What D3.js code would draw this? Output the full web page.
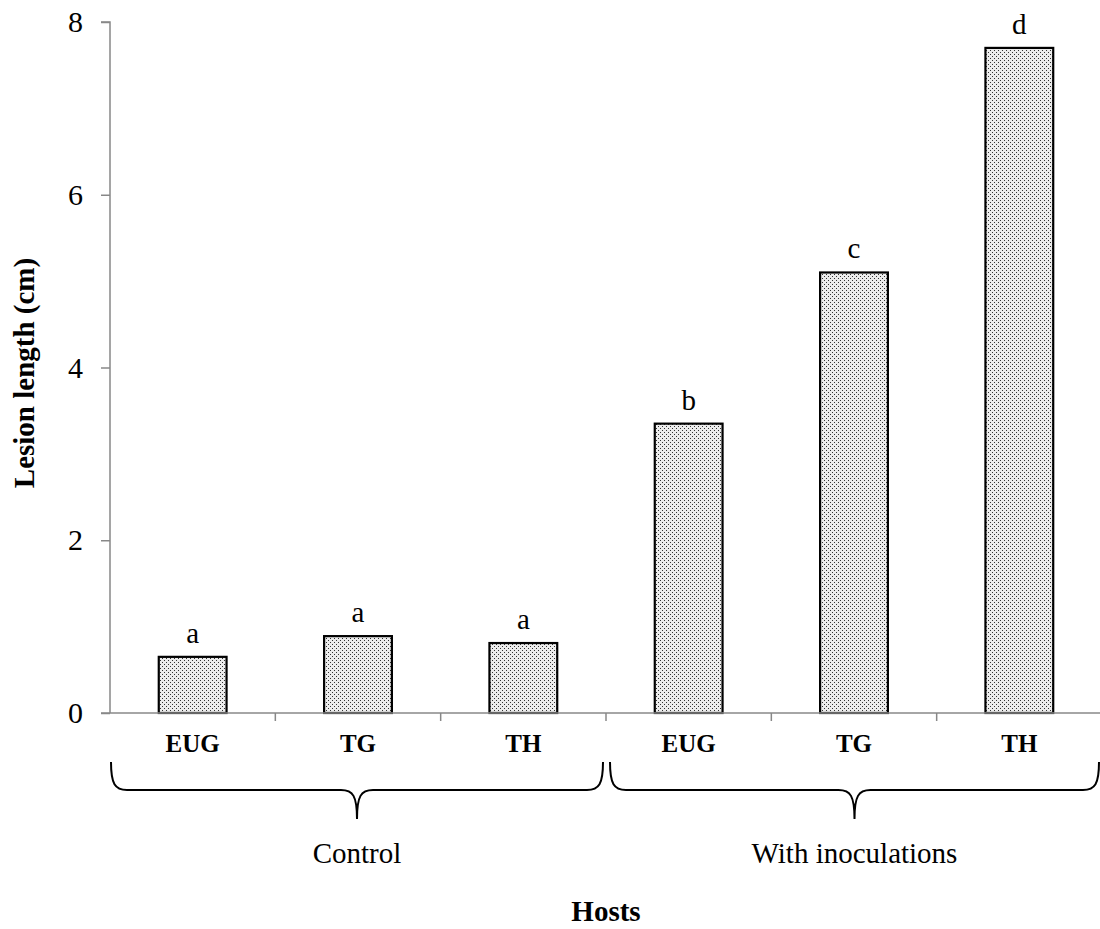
<!DOCTYPE html>
<html>
<head>
<meta charset="utf-8">
<script src="https://cdn.jsdelivr.net/npm/d3@7"></script>
<style>
  html, body { margin: 0; padding: 0; background: #fff; }
  svg text { font-family: "Liberation Serif", "Times New Roman", serif; fill: #000; }
</style>
</head>
<body>
<svg id="chart" width="1100" height="929"></svg>
<script>
// Hosts, treatment groups and mean lesion lengths (cm)
const hosts = ["EUG", "TG", "TH", "EUG", "TG", "TH"];
const groups = ["Control", "Control", "Control", "With inoculations", "With inoculations", "With inoculations"];
const lesionLength = [0.65, 0.89, 0.81, 3.35, 5.10, 7.70];
const significance = ["a", "a", "a", "b", "c", "d"];
const groupNames = ["Control", "With inoculations"];
const yTicks = [0, 2, 4, 6, 8];

const svg = d3.select("#chart");
const margin = { left: 110, right: 1102, top: 22, bottom: 713 };

const keys = hosts.map((h, i) => i);
const x = d3.scaleBand().domain(keys).range([margin.left, margin.right]).paddingInner(0.59).paddingOuter(0.295);
const xb = d3.scaleBand().domain(keys).range([margin.left, margin.right]);
const y = d3.scaleLinear().domain([0, 8]).range([margin.bottom, margin.top]);

// stippled fill for the bars
const defs = svg.append("defs");
const pat = defs.append("pattern").attr("id", "stipple").attr("patternUnits", "userSpaceOnUse")
  .attr("width", 4).attr("height", 4);
pat.append("rect").attr("width", 4).attr("height", 4).attr("fill", "#ececec");
pat.append("rect").attr("x", 0).attr("y", 0).attr("width", 1).attr("height", 1).attr("fill", "#333");
pat.append("rect").attr("x", 2).attr("y", 2).attr("width", 1).attr("height", 1).attr("fill", "#333");

// y axis
const yAxis = d3.axisLeft(y).tickValues(yTicks).tickSize(9).tickPadding(18).tickFormat(d3.format("d"));
const gy = svg.append("g").attr("transform", `translate(${margin.left},0)`).call(yAxis);
gy.select(".domain").attr("stroke", "#888").attr("stroke-width", 1.5)
  .attr("d", `M-9,${y(8)}H0V${y(0)}`);
gy.selectAll(".tick line").attr("stroke", "#888").attr("stroke-width", 1.5);
gy.selectAll(".tick text").style("font-family", "Liberation Serif").style("font-size", "30px").attr("fill", "#000");

// bars
svg.append("g").selectAll("rect").data(keys).join("rect")
  .attr("x", i => x(i))
  .attr("y", i => y(lesionLength[i]))
  .attr("width", x.bandwidth())
  .attr("height", i => y(0) - y(lesionLength[i]))
  .attr("fill", "url(#stipple)")
  .attr("stroke", "#000").attr("stroke-width", 2.2);

// x axis: baseline with ticks between categories
const gx = svg.append("g");
gx.append("line").attr("x1", margin.left - 9).attr("x2", margin.right).attr("y1", y(0)).attr("y2", y(0))
  .attr("stroke", "#888").attr("stroke-width", 1.5);
const bounds = keys.slice(1).map(i => xb(i)).concat([margin.right]);
gx.selectAll("line.tk").data(bounds).join("line").attr("class", "tk")
  .attr("x1", d => d).attr("x2", d => d).attr("y1", y(0)).attr("y2", y(0) + 8)
  .attr("stroke", "#888").attr("stroke-width", 1.5);

// significance letters
svg.append("g").selectAll("text").data(keys).join("text")
  .attr("x", i => x(i) + x.bandwidth() / 2)
  .attr("y", i => y(lesionLength[i]) - 14)
  .attr("text-anchor", "middle")
  .style("font-size", "29px")
  .text(i => significance[i]);

// host labels
svg.append("g").selectAll("text").data(keys).join("text")
  .attr("x", i => x(i) + x.bandwidth() / 2)
  .attr("y", 752)
  .attr("text-anchor", "middle")
  .style("font-size", "25px").style("font-weight", "bold")
  .text(i => hosts[i]);

// curly braces under each group
function bracePath(x0, x1, top, mid, tip) {
  const c = (x0 + x1) / 2, r = 16;
  return `M${x0},${top}` +
    `C${x0},${mid - 6} ${x0 + 4},${mid} ${x0 + r},${mid}` +
    `H${c - r}` +
    `C${c - 4},${mid} ${c},${mid + 6} ${c},${tip}` +
    `C${c},${mid + 6} ${c + 4},${mid} ${c + r},${mid}` +
    `H${x1 - r}` +
    `C${x1 - 4},${mid} ${x1},${mid - 6} ${x1},${top}`;
}
const groupSpan = groupNames.map(g => {
  const idx = keys.filter(i => groups[i] === g);
  return { name: g, x0: xb(idx[0]) + 1, x1: xb(idx[idx.length - 1]) + xb.bandwidth() - 3 };
});
groupSpan[1].x0 += 3;
svg.append("g").selectAll("path").data(groupSpan).join("path")
  .attr("d", d => bracePath(d.x0, d.x1, 762, 790, 819))
  .attr("fill", "none").attr("stroke", "#000").attr("stroke-width", 2);

svg.append("g").selectAll("text").data(groupSpan).join("text")
  .attr("x", d => (d.x0 + d.x1) / 2)
  .attr("y", 863)
  .attr("text-anchor", "middle")
  .style("font-size", "29px")
  .text(d => d.name);

// axis titles
svg.append("text")
  .attr("x", (margin.left + margin.right) / 2).attr("y", 921)
  .attr("text-anchor", "middle")
  .style("font-size", "29px").style("font-weight", "bold")
  .text("Hosts");

svg.append("text")
  .attr("transform", `translate(34,373) rotate(-90)`)
  .attr("text-anchor", "middle")
  .style("font-size", "29px").style("font-weight", "bold")
  .text("Lesion length (cm)");
</script>
</body>
</html>
